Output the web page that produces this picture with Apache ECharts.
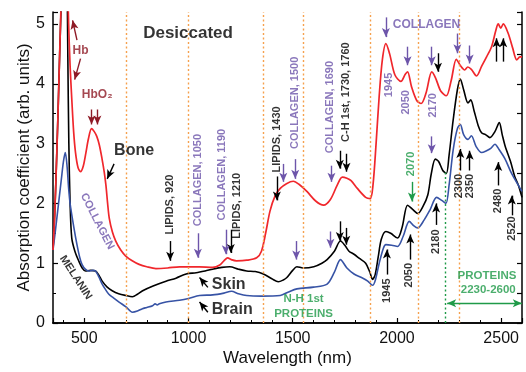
<!DOCTYPE html>
<html><head><meta charset="utf-8">
<script src="https://cdn.jsdelivr.net/npm/echarts@6/dist/echarts.min.js"></script>
<style>html,body{margin:0;padding:0;background:#fff}#c{width:526px;height:372px}</style>
</head><body><div id="c"></div>
<script>
// ---- spectra (wavelength nm, absorption coefficient) ----
const bone = [[350,1.22],[358,1.8],[366,2.6],[374,3.5],[382,4.5],[390,5.5],[400,6.6],[410,7.0],[418,6.0],[425,5.0],[432,4.3],[440,3.75],[449,3.2],[458,2.85],[470,2.6],[482,2.53],[495,2.62],[508,2.85],[520,3.08],[535,3.25],[548,3.2],[560,3.12],[572,2.98],[585,2.75],[596,2.52],[604,2.3],[612,2.0],[620,1.75],[635,1.52],[651,1.37],[675,1.22],[699,1.12],[730,1.04],[763,0.98],[800,0.94],[844,0.91],[900,0.92],[957,0.94],[1000,0.94],[1053,0.94],[1116,0.93],[1150,0.97],[1170,1.04],[1188,1.09],[1205,1.06],[1230,1.04],[1280,1.05],[1327,1.09],[1350,1.2],[1370,1.5],[1391,1.87],[1415,2.12],[1440,2.25],[1470,2.33],[1503,2.37],[1530,2.32],[1568,2.2],[1610,2.04],[1648,1.97],[1680,2.06],[1713,2.3],[1738,2.44],[1760,2.42],[1780,2.38],[1810,2.25],[1850,2.1],[1872,2.08],[1885,2.3],[1900,3.0],[1915,3.8],[1930,4.4],[1947,4.67],[1965,4.5],[1990,4.15],[2019,4.04],[2040,4.16],[2051,4.2],[2070,3.95],[2095,3.72],[2116,3.67],[2140,3.85],[2167,4.2],[2185,4.1],[2210,3.88],[2237,3.8],[2260,4.05],[2285,4.41],[2305,4.3],[2325,4.23],[2340,4.28],[2357,4.24],[2382,4.13],[2406,4.29],[2430,4.45],[2454,4.62],[2475,4.9],[2486,5.0],[2498,4.93],[2510,5.0],[2534,4.84],[2555,4.6],[2575,4.4],[2590,4.45],[2600,4.45]];
const skin = [[350,1.22],[358,1.8],[366,2.6],[374,3.5],[382,4.5],[392,5.6],[402,6.6],[412,7.0],[417,6.0],[421,4.5],[426,3.0],[432,2.0],[440,1.42],[455,1.2],[473,1.04],[490,0.92],[506,0.87],[530,0.88],[554,0.87],[570,0.8],[586,0.7],[610,0.6],[634,0.54],[665,0.49],[699,0.46],[731,0.44],[755,0.48],[780,0.54],[830,0.62],[892,0.7],[940,0.75],[989,0.82],[1037,0.84],[1080,0.87],[1116,0.9],[1160,0.93],[1198,0.94],[1240,0.9],[1279,0.87],[1320,0.86],[1359,0.82],[1400,0.74],[1431,0.69],[1455,0.72],[1472,0.76],[1500,0.88],[1520,0.94],[1550,0.92],[1601,0.94],[1640,1.0],[1665,1.06],[1700,1.2],[1729,1.37],[1750,1.3],[1770,1.2],[1794,1.15],[1820,1.08],[1850,1.0],[1870,0.85],[1883,0.73],[1895,0.8],[1910,1.1],[1925,1.4],[1947,1.53],[1970,1.5],[2003,1.42],[2025,1.6],[2051,1.97],[2075,1.9],[2100,1.83],[2125,1.95],[2148,2.14],[2165,2.5],[2184,2.74],[2200,2.7],[2220,2.55],[2237,2.5],[2250,2.8],[2270,3.4],[2290,3.9],[2304,4.08],[2320,3.9],[2341,3.68],[2354,3.73],[2370,3.55],[2390,3.3],[2406,3.18],[2425,3.15],[2446,3.1],[2470,3.2],[2491,3.35],[2505,3.15],[2519,2.96],[2545,2.7],[2565,2.45],[2583,2.3],[2600,2.1]];
const brain = [[350,1.22],[360,1.5],[370,1.8],[380,2.1],[390,2.4],[400,2.7],[409,2.85],[418,2.6],[425,2.25],[433,1.97],[450,1.6],[465,1.31],[478,1.1],[489,0.98],[505,0.9],[522,0.87],[540,0.88],[554,0.87],[570,0.77],[586,0.65],[600,0.57],[618,0.48],[640,0.42],[667,0.35],[700,0.27],[731,0.18],[755,0.2],[779,0.24],[800,0.26],[828,0.29],[840,0.32],[850,0.3],[860,0.32],[892,0.35],[957,0.38],[1000,0.41],[1053,0.46],[1116,0.47],[1170,0.5],[1206,0.53],[1240,0.49],[1279,0.46],[1350,0.45],[1440,0.46],[1480,0.52],[1520,0.57],[1600,0.6],[1665,0.65],[1700,0.85],[1729,1.06],[1760,0.92],[1794,0.82],[1830,0.76],[1860,0.7],[1883,0.63],[1895,0.7],[1915,1.0],[1935,1.25],[1947,1.31],[1975,1.3],[2003,1.28],[2030,1.45],[2059,1.7],[2080,1.63],[2100,1.59],[2130,1.72],[2160,1.9],[2190,2.1],[2215,2.05],[2235,2.0],[2250,2.3],[2270,2.9],[2290,3.25],[2304,3.32],[2320,3.15],[2341,3.07],[2357,3.13],[2380,2.95],[2406,2.85],[2430,2.88],[2450,2.92],[2470,2.99],[2490,2.9],[2519,2.74],[2550,2.5],[2583,2.3],[2600,2.2]];

// ---- axes ----
const xMin = 350, xMax = 2600, yMin = 0, yMax = 5.2;
const xTickStep = 500;

// ---- band boundaries ----
const orangeBands = [700, 1000, 1360, 1550, 1870, 2100, 2300];
const greenBand = [[2230, 0], [2230, 2.53]];
const proteinRange = [[2241, 0.33], [2599, 0.33]];

// ---- annotation texts [wavelength, value, text] ----
const vBlack = [[910,1.98,'LIPIDS, 920'],[1234,1.96,'LIPIDS, 1210'],[1423,3.07,'LIPIDS, 1430'],[1754,3.86,'C-H 1st, 1730, 1760'],[1954,0.54,'1945'],[2059,0.80,'2050'],[2188,1.36,'2180'],[2300,2.29,'2300'],[2349,2.29,'2350'],[2486,2.04,'2480'],[2551,1.58,'2520']];
const vPurple = [[1045,2.39,'COLLAGEN, 1050'],[1163,2.48,'COLLAGEN, 1190'],[1512,3.68,'COLLAGEN, 1500'],[1681,3.61,'COLLAGEN, 1690'],[1962,3.98,'1945'],[2043,3.69,'2050'],[2172,3.64,'2170']];
const vGreen = [[2068,2.66,'2070']];
const bigNames = [[739,2.88,'Bone'],[1193,0.65,'Skin'],[1210,0.22,'Brain']];
const titleText = [[998,4.84,'Desiccated']];
const hbTexts = [[482,4.56,'Hb'],[562,3.82,'HbO₂']];
const collagenTop = [[2142,4.99,'COLLAGEN']];
const collagenSlant = [[562,1.70,'COLLAGEN']];
const melaninSlant = [[459,0.76,'MELANIN']];
const greenTexts = [[1552,0.40,'N-H 1st'],[1552,0.155,'PROTEINS'],[2432,0.79,'PROTEINS'],[2438,0.56,'2230-2600']];

// ---- arrows [x1, y1, x2(head), y2(head)] ----
const arrowsBlack = [[912,1.37,912,1.04],[1203,1.56,1203,1.17],[1424,2.45,1424,2.05],[1726,2.88,1726,2.58],[1758,2.83,1758,2.53],[1726,1.70,1726,1.37],[1757,1.59,1757,1.31],[2197,4.51,2197,4.20],[2478,4.37,2478,4.76],[2510,4.37,2510,4.76],[1952,0.81,1952,1.23],[2064,1.06,2064,1.48],[2188,1.64,2188,2.0],[2304,2.55,2304,2.91],[2349,2.55,2349,2.88],[2486,2.30,2486,2.69],[2551,1.80,2551,2.13],[643,2.66,610,2.41],[1093,0.595,1053,0.76],[1093,0.18,1053,0.35]];
const arrowsPurple = [[1045,1.50,1045,1.09],[1179,1.56,1179,1.15],[1455,2.66,1455,2.36],[1512,2.74,1512,2.41],[1686,2.63,1686,2.36],[1517,1.37,1517,1.06],[1681,1.53,1681,1.26],[1947,5.11,1947,4.78],[2051,4.62,2051,4.31],[2167,4.62,2167,4.31],[2290,4.84,2290,4.51],[2349,4.64,2349,4.34],[2167,3.12,2167,2.84]];
const arrowsDarkRed = [[465,4.73,444,5.06],[482,4.42,454,4.07],[535,3.57,535,3.32],[563,3.57,563,3.32]];
const arrowsGreen = [[2072,2.36,2072,2.03]];

const FONT = 'Liberation Sans, Arial, sans-serif';
const PURPLE = '#6d55aa', DARKRED = '#8e1a26', GREEN = '#1f9a48', ORANGE = '#f6a04d';

function textSeries(list, color, size, rotate, extra) {
  return {
    type: 'scatter', xAxisIndex: 0, yAxisIndex: 0, symbolSize: 0, silent: true, z: 5, clip: false,
    data: list.map(d => ({ value: [d[0], d[1]], name: d[2] })),
    label: Object.assign({
      show: true, position: 'inside', rotate: rotate, align: 'center', verticalAlign: 'middle',
      formatter: p => p.name, color: color, fontSize: size, fontWeight: 'bold', fontFamily: FONT
    }, extra || {})
  };
}
function arrowSeries(list, color, both) {
  return {
    type: 'line', xAxisIndex: 0, yAxisIndex: 0, data: [], silent: true, z: 4,
    markLine: {
      silent: true, animation: false, symbol: both ? ['arrow', 'arrow'] : ['none', 'arrow'], symbolSize: [6, 9],
      label: { show: false }, emphasis: { disabled: true },
      lineStyle: { color: color, width: 1.4, type: 'solid' },
      data: list.map(a => [{ coord: [a[0], a[1]] }, { coord: [a[2], a[3]] }])
    }
  };
}

const chart = echarts.init(document.getElementById('c'), null, { renderer: 'canvas' });
const axisLineStyle = { color: '#000', width: 1.5 };
chart.setOption({
  animation: false,
  backgroundColor: '#fff',
  grid: { left: 53, right: 4, top: 12, bottom: 46 },
  xAxis: [{
    type: 'value', min: xMin, max: xMax, splitNumber: 5, position: 'bottom',
    name: 'Wavelength (nm)', nameLocation: 'middle', nameGap: 27, nameMoveOverlap: false,
    nameTextStyle: { fontSize: 17, color: '#111', fontFamily: FONT },
    axisLine: { show: true, lineStyle: axisLineStyle },
    axisTick: { show: true, inside: true, length: 5, lineStyle: { color: '#000', width: 1.2 } },
    minorTick: { show: true, splitNumber: 5, length: 3, lineStyle: { color: '#000', width: 1 } },
    axisLabel: { fontSize: 16, color: '#111', margin: 8, fontFamily: FONT,
      formatter: v => (v % xTickStep === 0 ? String(v) : '') },
    splitLine: { show: false }
  }, {
    type: 'value', min: xMin, max: xMax, position: 'top',
    axisLine: { show: true, lineStyle: axisLineStyle },
    axisTick: { show: false }, axisLabel: { show: false }, splitLine: { show: false }
  }],
  yAxis: [{
    type: 'value', min: yMin, max: yMax, splitNumber: 5, position: 'left',
    name: 'Absorption coefficient (arb. units)', nameLocation: 'middle', nameGap: 20, nameMoveOverlap: false,
    nameTextStyle: { fontSize: 17, color: '#111', fontFamily: FONT },
    axisLine: { show: true, lineStyle: axisLineStyle },
    axisTick: { show: true, inside: true, length: 5, lineStyle: { color: '#000', width: 1.2 } },
    minorTick: { show: true, splitNumber: 2, length: 3, lineStyle: { color: '#000', width: 1 } },
    axisLabel: { fontSize: 16, color: '#111', margin: 8, fontFamily: FONT,
      formatter: v => (Number.isInteger(v) ? String(v) : '') },
    splitLine: { show: false }
  }, {
    type: 'value', min: yMin, max: yMax, splitNumber: 5, position: 'right',
    axisLine: { show: true, lineStyle: axisLineStyle },
    axisTick: { show: true, inside: true, length: 5, lineStyle: { color: '#000', width: 1.2 } },
    minorTick: { show: true, splitNumber: 2, length: 5, lineStyle: { color: '#000', width: 1.2 } },
    axisLabel: { show: false }, splitLine: { show: false }
  }],
  series: [
    { type: 'line', xAxisIndex: 0, yAxisIndex: 0, data: [], silent: true,
      markLine: { silent: true, animation: false, symbol: ['none', 'none'], label: { show: false },
        lineStyle: { color: ORANGE, width: 1.4, type: [2, 2.5] },
        data: orangeBands.map(v => ({ xAxis: v })) } },
    { type: 'line', xAxisIndex: 0, yAxisIndex: 0, data: [], silent: true,
      markLine: { silent: true, animation: false, symbol: ['none', 'none'], label: { show: false },
        lineStyle: { color: GREEN, width: 1.4, type: [2, 2.5] },
        data: [[{ coord: greenBand[0] }, { coord: greenBand[1] }]] } },
    { name: 'Skin', type: 'line', data: skin, showSymbol: false, smooth: 0.3, lineStyle: { color: '#000', width: 1.6 }, z: 3 },
    { name: 'Brain', type: 'line', data: brain, showSymbol: false, smooth: 0.3, lineStyle: { color: '#3753a5', width: 1.6 }, z: 3 },
    { name: 'Bone', type: 'line', data: bone, showSymbol: false, smooth: 0.3, lineStyle: { color: '#f0272c', width: 1.7 }, z: 3 },
    arrowSeries(arrowsBlack, '#000'),
    arrowSeries(arrowsPurple, PURPLE),
    arrowSeries(arrowsDarkRed, DARKRED),
    arrowSeries(arrowsGreen, GREEN),
    arrowSeries([[proteinRange[0][0], proteinRange[0][1], proteinRange[1][0], proteinRange[1][1]]], GREEN, true),
    textSeries(vBlack, '#000', 11, 90),
    textSeries(vPurple, PURPLE, 11, 90),
    textSeries(vGreen, GREEN, 11, 90),
    textSeries(bigNames, '#000', 16, 0),
    textSeries(titleText, '#000', 17, 0),
    textSeries(hbTexts, DARKRED, 12, 0),
    textSeries(collagenTop, PURPLE, 12, 0),
    textSeries(collagenSlant, PURPLE, 11, -63),
    textSeries(melaninSlant, '#000', 11, -57),
    textSeries(greenTexts, GREEN, 11.5, 0)
  ]
});
</script></body></html>
